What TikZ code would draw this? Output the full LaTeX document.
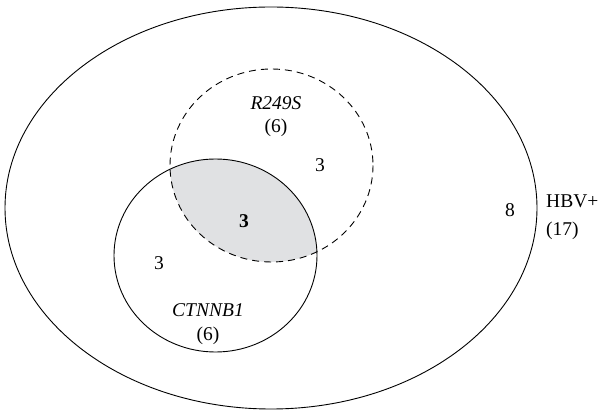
\documentclass[tikz,border=0pt]{standalone}
\usepackage{fontspec}
\setmainfont{Liberation Serif}
\definecolor{overlapgray}{HTML}{E0E1E3}
\begin{document}
\begin{tikzpicture}[x=1pt,y=-1pt,
  setline/.style={black, line width=0.9pt},
  lbl/.style={font=\fontsize{19.5}{22}\selectfont, inner sep=0pt},
  setname/.style={lbl, font=\fontsize{19.5}{22}\selectfont\itshape}]
\useasboundingbox (0,0) rectangle (600,411);
% shaded overlap of the two sets
\begin{scope}
  \clip (271.5,165.5) ellipse [x radius=101.5, y radius=96.5];
  \fill[overlapgray] (215.5,255.5) ellipse [x radius=101.5, y radius=96.5];
\end{scope}
% HBV+ universe
\draw[setline] (271,208) ellipse [x radius=266, y radius=201];
% R249S set (dashed)
\draw[setline, dash pattern=on 7pt off 5pt] (271.5,165.5) ellipse [x radius=101.5, y radius=96.5];
% CTNNB1 set
\draw[setline] (215.5,255.5) ellipse [x radius=101.5, y radius=96.5];
% labels
\node[setname] (r249s) at (276,103) {R249S};
\node[lbl] (r249sn) at (276,128) {(6)};
\node[lbl] (ronly) at (320,165) {3};
\node[lbl, font=\fontsize{19.5}{22}\selectfont\bfseries] (both) at (244,221) {3};
\node[lbl] (conly) at (159,263) {3};
\node[setname] (ctnnb1) at (208,310) {CTNNB1};
\node[lbl] (ctnnb1n) at (208,336) {(6)};
\node[lbl] (rest) at (510,210) {8};
\node[lbl, anchor=west] (hbv) at (546,201) {HBV+};
\node[lbl, anchor=west] (hbvn) at (546,231) {(17)};
\end{tikzpicture}
\end{document}
